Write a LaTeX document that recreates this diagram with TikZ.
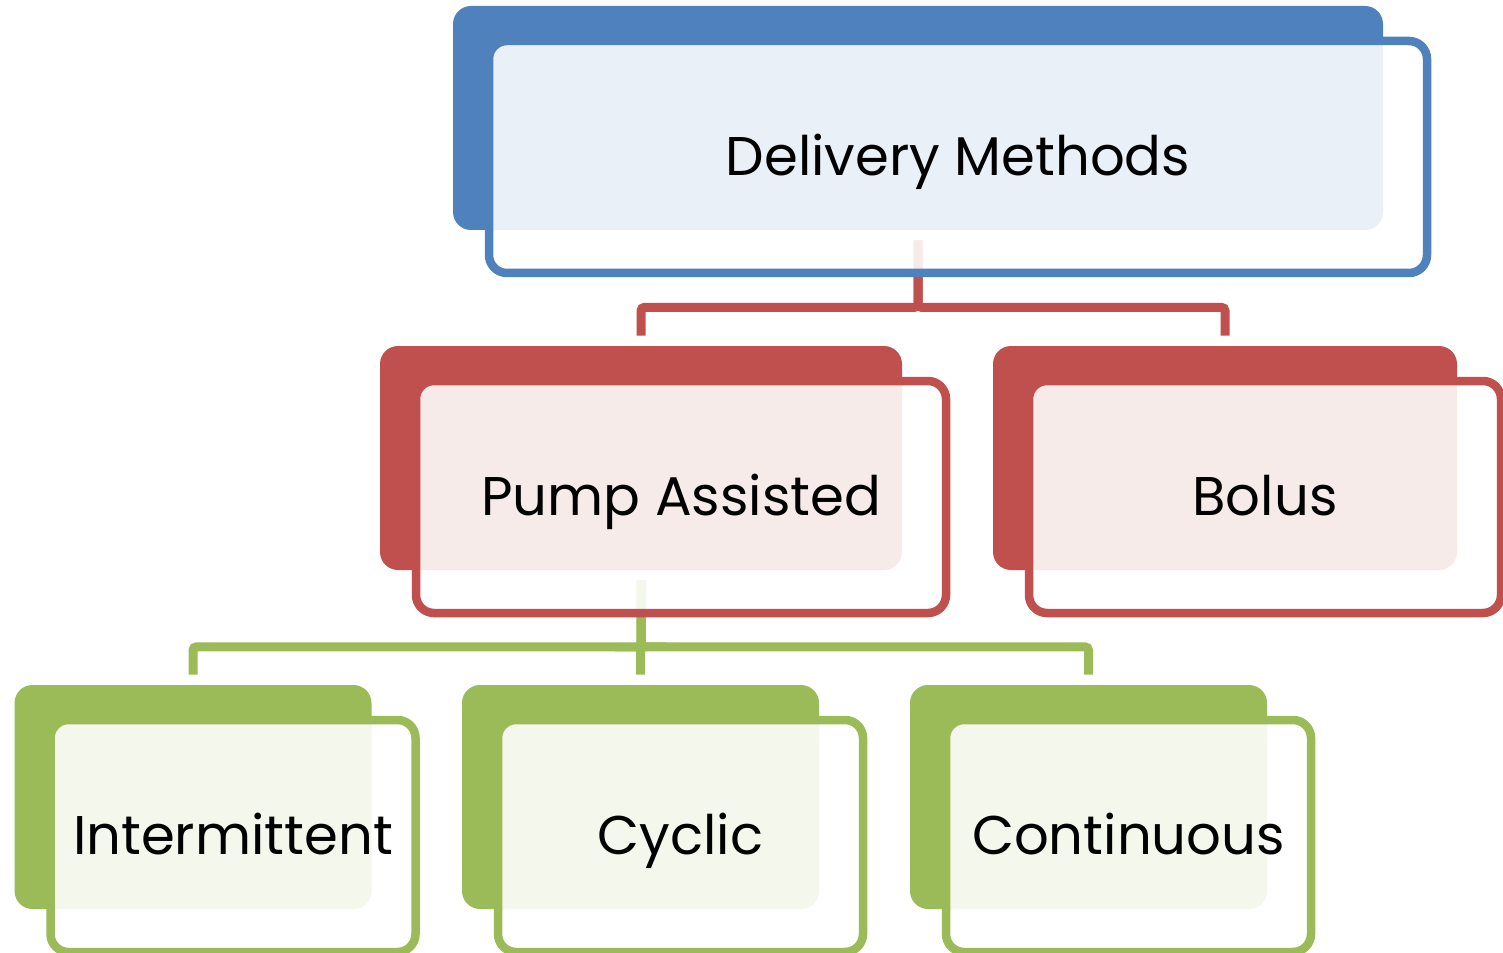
\documentclass[tikz,border=0pt]{standalone}
\usepackage{fontspec}
\setmainfont{Poppins}
\definecolor{dmblue}{HTML}{4F81BD}
\definecolor{dmred}{HTML}{C0504D}
\definecolor{dmgreen}{HTML}{9BBB59}

\tikzset{
  backbox/.style={fill=#1, rounded corners=0.36cm, minimum height=4.48cm, inner sep=0pt},
  frontbox/.style={draw=#1, line width=0.17cm, fill=white, fill opacity=0.885, text opacity=1,
    rounded corners=0.36cm, minimum height=4.64cm, inner sep=0pt,
    text height=0.8cm, text depth=0.06cm, font=\fontsize{31}{34}\selectfont},
  link/.style={draw=#1, line width=0.18cm, rounded corners=2pt},
  lift/.style={shift={(0.8cm,-0.78cm)}}
}

\begin{document}
\begin{tikzpicture}
    \useasboundingbox (0,0) rectangle (30.06,-19.06);

    % solid boxes at the back
    \node[backbox=dmblue, minimum width=18.6cm] (top) at (18.36,-2.36) {};
    \node[backbox=dmred, minimum width=10.44cm] (pump) at (12.82,-9.16) {};
    \node[backbox=dmred, minimum width=9.28cm] (bolus) at (24.5,-9.16) {};
    \node[backbox=dmgreen, minimum width=7.14cm] (interm) at (3.86,-15.94) {};
    \node[backbox=dmgreen, minimum width=7.14cm] (cyclic) at (12.81,-15.94) {};
    \node[backbox=dmgreen, minimum width=7.14cm] (contin) at (21.77,-15.94) {};

    % connectors
    \draw[link=dmred] ([yshift=-0.2cm]top.south) -- ++(0,-1.34) -| ([yshift=0.2cm]pump.north);
    \draw[link=dmred] ([yshift=-0.2cm]top.south) -- ++(0,-1.34) -| ([yshift=0.2cm]bolus.north);
    \draw[link=dmgreen] ([yshift=-0.2cm]pump.south) -- ++(0,-1.33) -| ([yshift=0.2cm]interm.north);
    \draw[link=dmgreen] ([yshift=-0.2cm]pump.south) -- ++(0,-1.33) -| ([yshift=0.2cm]cyclic.north);
    \draw[link=dmgreen] ([yshift=-0.2cm]pump.south) -- ++(0,-1.33) -| ([yshift=0.2cm]contin.north);

    % framed boxes in front, with the labels
    \node[frontbox=dmblue, minimum width=18.76cm] (topf) at ([lift]top.center) {Delivery Methods};
    \node[frontbox=dmred, minimum width=10.6cm] (pumpf) at ([lift]pump.center) {Pump Assisted};
    \node[frontbox=dmred, minimum width=9.44cm] (bolusf) at ([lift]bolus.center) {Bolus};
    \node[frontbox=dmgreen, minimum width=7.3cm] (intermf) at ([lift]interm.center) {Intermittent};
    \node[frontbox=dmgreen, minimum width=7.3cm] (cyclicf) at ([lift]cyclic.center) {Cyclic};
    \node[frontbox=dmgreen, minimum width=7.3cm] (continf) at ([lift]contin.center) {Continuous};
\end{tikzpicture}
\end{document}
